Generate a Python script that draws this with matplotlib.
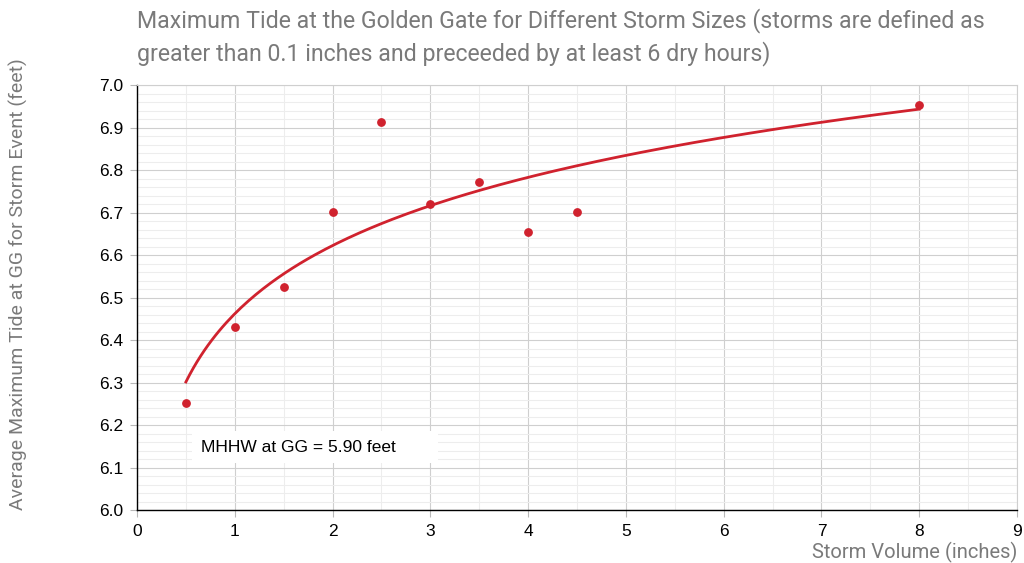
import matplotlib
matplotlib.use("Agg")
import matplotlib.pyplot as plt
import numpy as np
from matplotlib.ticker import MultipleLocator

storm_volume = [0.5, 1.0, 1.5, 2.0, 2.5, 3.0, 3.5, 4.0, 4.5, 8.0]
max_tide = [6.252, 6.430, 6.524, 6.702, 6.912, 6.720, 6.772, 6.654, 6.701, 6.952]

title = ("Maximum Tide at the Golden Gate for Different Storm Sizes (storms are defined as\n"
         "greater than 0.1 inches and preceeded by at least 6 dry hours)")
note = "MHHW at GG = 5.90 feet       "

x = np.array(storm_volume)
y = np.array(max_tide)
# logarithmic trendline
b, a = np.polyfit(np.log(x), y, 1)
xs = np.linspace(x.min(), x.max(), 200)
ys = a + b * np.log(xs)

fig = plt.figure(figsize=(10.24, 5.63), dpi=100)
ax = fig.add_axes([0.1338, 0.0941, 0.8594, 0.7549])

ax.plot(xs, ys, color="#d0222e", linewidth=2, zorder=3)
ax.scatter(x, y, s=28, color="#d0222e", zorder=4)

ax.set_xlim(0, 9)
ax.set_ylim(6.0, 7.0)
ax.xaxis.set_minor_locator(MultipleLocator(0.5))
ax.yaxis.set_minor_locator(MultipleLocator(0.02))
ax.grid(True, which="major", color="#cfcfcf", linewidth=0.8)
ax.grid(True, which="minor", color="#ededed", linewidth=0.8)
ax.set_axisbelow(True)

for s in ["top", "right"]:
    ax.spines[s].set_color("#cfcfcf")
    ax.spines[s].set_linewidth(0.8)
for s in ["left", "bottom"]:
    ax.spines[s].set_color("black")
    ax.spines[s].set_linewidth(1.0)

ax.tick_params(which="major", length=5, color="#b8b8b8", labelsize=12.5, pad=5)
ax.tick_params(which="minor", length=0)
yt = np.round(np.arange(6.0, 7.01, 0.1), 1)
ax.set_yticks(yt)
ax.set_yticklabels([f"{v:.1f}" for v in yt], family="Liberation Sans")
ax.set_xticks(range(0, 10))
ax.set_xticklabels([str(v) for v in range(0, 10)], family="Liberation Sans")

ax.set_xlabel("Storm Volume (inches)", fontsize=14.5, color="#7a7a7a", family="Roboto",
              loc="right", labelpad=2)
ax.set_ylabel("Average Maximum Tide at GG for Storm Event (feet)", fontsize=14,
              color="#7a7a7a", family="Roboto")
ax.yaxis.set_label_coords(-0.124, 0.532)
fig.text(0.1338, 0.985, title, fontsize=16.7, color="#7a7a7a", family="Roboto",
         ha="left", va="top", linespacing=1.4)

ax.text(0.65, 6.148, note, fontsize=12.5, family="Liberation Sans", va="center",
        bbox=dict(facecolor="white", edgecolor="none", pad=6), zorder=5)

fig.savefig("out.png", dpi=100)
